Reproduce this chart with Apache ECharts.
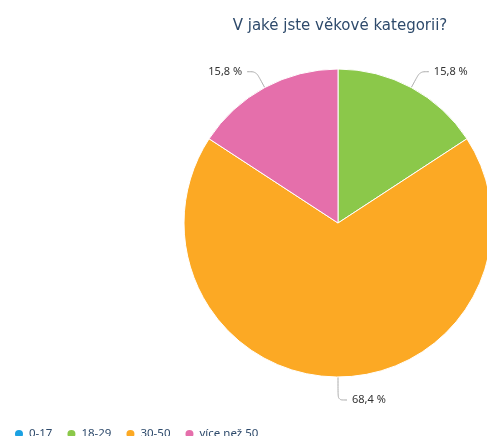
<!DOCTYPE html>
<html><head><meta charset="utf-8">
<script src="https://cdn.jsdelivr.net/npm/echarts@6/dist/echarts.min.js"></script>
<style>html,body{margin:0;padding:0;background:#fff}#c{width:487px;height:436px}</style>
</head><body><div id="c"></div>
<script>
const categories = ['0-17', '18-29', '30-50', 'více než 50'];
const values = [0, 3, 13, 3];
const colors = ['#1ba1e2', '#8bc84a', '#fca924', '#e56fab'];
const title = 'V jaké jste věkové kategorii?';

const chart = echarts.init(document.getElementById('c'), null, {renderer: 'canvas'});
const total = values.reduce((a, b) => a + b, 0);
chart.setOption({
  animation: false,
  color: colors,
  title: {
    text: title, left: 335, top: 14, textAlign: 'center',
    textStyle: {fontFamily: 'DejaVu Sans', fontSize: 15, fontWeight: 'normal', color: '#2e4a6b'}
  },
  legend: {
    left: 8, bottom: -9, icon: 'circle', itemWidth: 10, itemHeight: 10, itemGap: 13,
    textStyle: {fontFamily: 'Noto Sans', fontSize: 11.5, color: '#2e4a6b'},
    data: categories
  },
  series: [{
    type: 'pie', center: [338, 223], radius: 154, startAngle: 90, clockwise: true,
    minAngle: 0, avoidLabelOverlap: false, stillShowZeroSum: false,
    itemStyle: {borderColor: '#fff', borderWidth: 1},
    label: {
      show: true, fontFamily: 'Noto Sans', fontSize: 11, color: '#333',
      formatter: p => p.value ? (p.value / total * 100).toFixed(1).replace('.', ',') + ' %' : ''
    },
    labelLine: {show: true, length: 18, length2: 9, smooth: true, lineStyle: {color: '#aaa', width: 1}},
    data: categories.map((c, i) => ({name: c, value: values[i],
      label: {show: values[i] > 0},
      labelLine: i === 2 ? {show: true, length: 23, length2: 9} : {show: values[i] > 0}}))
  }]
});
</script></body></html>
